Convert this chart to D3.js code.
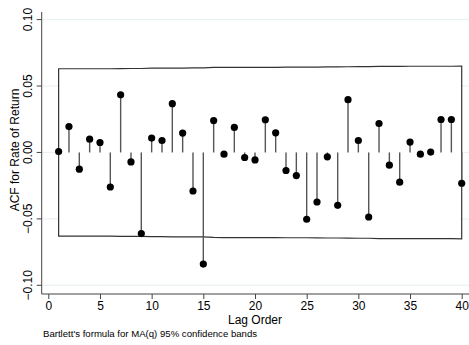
<!DOCTYPE html>
<html><head><meta charset="utf-8">
<script src="https://cdn.jsdelivr.net/npm/d3@7"></script>
<style>body{margin:0;background:#fff}svg{display:block}</style>
</head><body>
<script>
const lags = d3.range(1, 41);
const acf = [0.0007,0.0195,-0.0126,0.0100,0.0075,-0.0260,0.0434,-0.0071,-0.0611,0.0108,
             0.0090,0.0367,0.0146,-0.0290,-0.0840,0.0240,-0.0013,0.0188,-0.0038,-0.0056,
             0.0246,0.0148,-0.0136,-0.0174,-0.0503,-0.0373,-0.0033,-0.0398,0.0397,0.0090,
             -0.0486,0.0218,-0.0096,-0.0224,0.0078,-0.0013,0.0003,0.0248,0.0248,-0.0232];
const bandUpper = [0.0630,0.0630,0.0630,0.0630,0.0630,0.0630,0.0631,0.0632,0.0632,0.0634,
                   0.0634,0.0635,0.0635,0.0636,0.0636,0.0640,0.0641,0.0641,0.0641,0.0641,
                   0.0641,0.0641,0.0642,0.0642,0.0642,0.0643,0.0644,0.0644,0.0645,0.0646,
                   0.0646,0.0648,0.0648,0.0648,0.0649,0.0649,0.0649,0.0649,0.0649,0.0650];
const bandLower = bandUpper.map(v => -v);
const yTicks = [-0.10, -0.05, 0.00, 0.05, 0.10];
const xTicks = [0, 5, 10, 15, 20, 25, 30, 35, 40];

const W = 469, H = 345;
const svg = d3.select("body").append("svg").attr("width", W).attr("height", H);
const x = d3.scaleLinear().domain([0, 40]).range([48.3, 461.7]);
const y = d3.scaleLinear().domain([-0.10, 0.10]).range([285.3, 19.6]);
const axX = 41.7, axY = 294;
const font = "'Liberation Sans', Arial, sans-serif";

// gridlines
svg.append("g").selectAll("line").data(yTicks).join("line")
  .attr("x1", axX).attr("x2", W).attr("y1", d => y(d)).attr("y2", d => y(d))
  .attr("stroke", "#e6eff0").attr("stroke-width", 1);

// confidence band
const band = lags.map((l, i) => ({l, u: bandUpper[i], lo: bandLower[i]}));
svg.append("path").datum(band)
  .attr("d", d3.area().x(d => x(d.l)).y0(d => y(d.lo)).y1(d => y(d.u)))
  .attr("fill", "#fff").attr("stroke", "#333").attr("stroke-width", 1.2);

// spikes
svg.append("g").selectAll("line").data(lags).join("line")
  .attr("x1", d => x(d)).attr("x2", d => x(d))
  .attr("y1", y(0)).attr("y2", (d, i) => y(acf[i]))
  .attr("stroke", "#555").attr("stroke-width", 1.4);

// markers
svg.append("g").selectAll("circle").data(lags).join("circle")
  .attr("cx", d => x(d)).attr("cy", (d, i) => y(acf[i])).attr("r", 3.6)
  .attr("fill", "#000");

// y axis
const ya = svg.append("g").attr("transform", `translate(${axX},0)`)
  .call(d3.axisLeft(y).tickValues(yTicks).tickFormat(d3.format(".2f")).tickSize(5).tickSizeOuter(0));
ya.select(".domain").remove();
ya.selectAll(".tick line").attr("stroke", "#444");
ya.selectAll(".tick").each(function(d){
  const g = d3.select(this);
  g.attr("transform", null);
  g.select("line").attr("y1", y(d)).attr("y2", y(d));
  g.select("text").attr("font-family", font).attr("font-size", 12).attr("fill", "#000")
    .attr("x", 0).attr("y", 0).attr("dy", null).attr("text-anchor", "middle")
    .attr("transform", `translate(-10,${y(d)}) rotate(-90)`);
});
svg.append("line").attr("x1", axX).attr("x2", axX).attr("y1", 12).attr("y2", axY)
  .attr("stroke", "#444");

// x axis
const xa = svg.append("g").attr("transform", `translate(0,${axY})`)
  .call(d3.axisBottom(x).tickValues(xTicks).tickSize(5).tickSizeOuter(0));
xa.select(".domain").remove();
xa.selectAll(".tick line").attr("stroke", "#444");
xa.selectAll(".tick text").attr("font-family", font).attr("font-size", 12).attr("fill", "#000")
  .attr("y", 16).attr("dy", null);
svg.append("line").attr("x1", axX).attr("x2", W).attr("y1", axY).attr("y2", axY)
  .attr("stroke", "#444");

// titles
svg.append("text").attr("transform", `translate(19,150) rotate(-90)`)
  .attr("text-anchor", "middle").attr("font-family", font).attr("font-size", 12)
  .text("ACF for Rate of Return");
svg.append("text").attr("x", 255).attr("y", 324).attr("text-anchor", "middle")
  .attr("font-family", font).attr("font-size", 12).text("Lag Order");
svg.append("text").attr("x", 43).attr("y", 337)
  .attr("font-family", font).attr("font-size", 9.6).text("Bartlett's formula for MA(q) 95% confidence bands");
</script>
</body></html>
